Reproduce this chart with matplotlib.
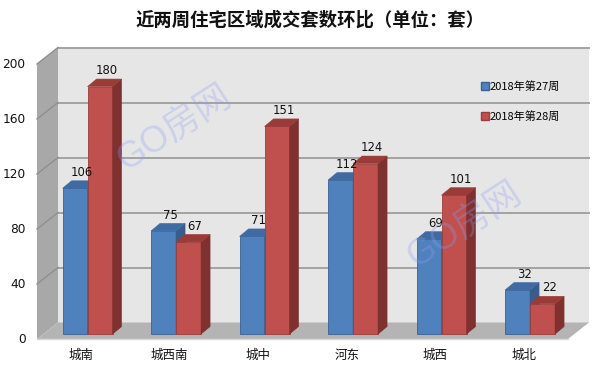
import matplotlib
matplotlib.use("Agg")
import matplotlib.pyplot as plt
from matplotlib.patches import Polygon
from matplotlib.lines import Line2D

plt.rcParams['font.family'] = ['Noto Sans CJK SC', 'DejaVu Sans']

title = "近两周住宅区域成交套数环比（单位：套）"
categories = ["城南", "城西南", "城中", "河东", "城西", "城北"]
series_names = ["2018年第27周", "2018年第28周"]
week27 = [106, 75, 71, 112, 69, 32]
week28 = [180, 67, 151, 124, 101, 22]
yticks = [0, 40, 80, 120, 160, 200]

front_cols = ["#4f81bd", "#c0504d"]
side_cols = ["#385d8a", "#7e312f"]
top_cols = ["#3f6aa3", "#9a3b38"]
edge_cols = ["#3a6194", "#9b3e3b"]

fig = plt.figure(figsize=(6.01, 3.70), dpi=100)
ax = fig.add_axes([0, 0, 1, 1])
ax.set_xlim(-0.918, 5.873)
ax.set_ylim(-22.545, 246.55)
ax.axis('off')

n = len(categories)
xl, xr = -0.5, n - 0.5
DX, DY = 0.2373, 12.0      # floor depth
bx0, by0 = 0.3 * DX, 0.3 * DY   # bar placement inside depth
bdx, bdy = 0.102, 5.45     # bar depth
w = 0.2825
ymax = yticks[-1]

# back wall
ax.add_patch(Polygon([(xl + DX, DY), (xr + DX, DY), (xr + DX, ymax + DY), (xl + DX, ymax + DY)],
                     closed=True, facecolor="#e6e6e6", edgecolor="none", zorder=1))
# left wall
ax.add_patch(Polygon([(xl, 0), (xl + DX, DY), (xl + DX, ymax + DY), (xl, ymax)],
                     closed=True, facecolor="#a8a8a8", edgecolor="none", zorder=1))
# floor
ax.add_patch(Polygon([(xl, 0), (xr, 0), (xr + DX, DY), (xl + DX, DY)],
                     closed=True, facecolor="#b4b4b4", edgecolor="none", zorder=2))
ax.plot([xl, xr], [0, 0], color="#d8d8d8", lw=1.0, zorder=2)

# gridlines
for v in yticks[1:]:
    ax.plot([xl + DX, xr + DX], [v + DY, v + DY], color="#a3a3a3", lw=1.4, zorder=1.5)
    ax.plot([xl, xl + DX], [v, v + DY], color="#8f8f8f", lw=1.0, zorder=1.5)

# y tick labels
for v in yticks:
    ax.text(-0.63, v, str(v), ha='right', va='center', fontsize=8.7,
            family='DejaVu Sans', color="#111111", zorder=5)

# category labels
for i, c in enumerate(categories):
    ax.text(i, -11.8, c, ha='center', va='center', fontsize=9, color="#111111", zorder=5)

# bars
handles = []
for i in range(n):
    for s, vals in enumerate([week27, week28]):
        v = vals[i]
        left = i + bx0 - w + s * w
        b = ax.bar(left, v, width=w, bottom=by0, align='edge', color=front_cols[s],
                   edgecolor=edge_cols[s], linewidth=0.6, zorder=3 + i * 0.1 + s * 0.01)
        top = by0 + v
        right = left + w
        # side
        ax.add_patch(Polygon([(right, by0), (right + bdx, by0 + bdy), (right + bdx, top + bdy), (right, top)],
                             closed=True, facecolor=side_cols[s], edgecolor=side_cols[s], lw=0.4,
                             zorder=3 + i * 0.1 + s * 0.01))
        # top
        ax.add_patch(Polygon([(left, top), (right, top), (right + bdx, top + bdy), (left + bdx, top + bdy)],
                             closed=True, facecolor=top_cols[s], edgecolor=top_cols[s], lw=0.4,
                             zorder=3 + i * 0.1 + s * 0.01))
        ax.text(left + w / 2 + 0.073, top + bdy + 1.4, str(v), ha='center', va='bottom',
                fontsize=8.4, family='DejaVu Sans', color="#111111", zorder=6)

# legend
leg_handles = [Line2D([], [], marker='s', linestyle='none', markersize=6,
                      markerfacecolor=front_cols[k], markeredgecolor=edge_cols[k]) for k in range(2)]
ax.legend(leg_handles, series_names, loc='upper left', bbox_to_anchor=(481 / 601, 1 - 81 / 370),
          frameon=False, fontsize=8, handlelength=0.7, handletextpad=0.1, labelspacing=1.75,
          borderpad=0, borderaxespad=0)

# watermarks
for (wx, wy) in [(174, 128), (464, 225)]:
    xd = (wx - 81.25) / 88.5
    yd = (339 - wy) / 1.375
    ax.text(xd, yd, "GO房网", rotation=33, ha='center', va='center', fontsize=26,
            color=(0.55, 0.62, 0.95), alpha=0.3, zorder=8,
            family=['Liberation Sans', 'Noto Sans CJK SC'])

fig.text(0.516, 1 - 20 / 370, title, ha='center', va='center', fontsize=13.2, fontweight='bold',
         color="#111111")

fig.savefig("out.png", dpi=100, facecolor="white")
